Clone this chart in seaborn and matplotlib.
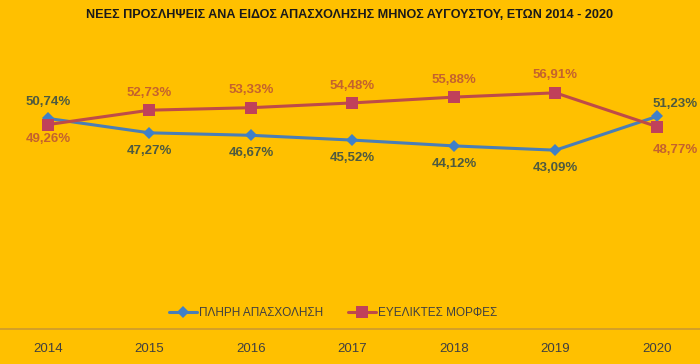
import matplotlib
matplotlib.use("Agg")
import matplotlib.pyplot as plt
import seaborn as sns
import pandas as pd

years = ["2014", "2015", "2016", "2017", "2018", "2019", "2020"]
full_time = [50.74, 47.27, 46.67, 45.52, 44.12, 43.09, 51.23]
flexible = [49.26, 52.73, 53.33, 54.48, 55.88, 56.91, 48.77]
series_names = ["ΠΛΗΡΗ ΑΠΑΣΧΟΛΗΣΗ", "ΕΥΕΛΙΚΤΕΣ ΜΟΡΦΕΣ"]
title = "ΝΕΕΣ ΠΡΟΣΛΗΨΕΙΣ ΑΝΑ ΕΙΔΟΣ ΑΠΑΣΧΟΛΗΣΗΣ ΜΗΝΟΣ ΑΥΓΟΥΣΤΟΥ, ΕΤΩΝ 2014 - 2020"

sns.set_theme(style="white")
plt.rcParams["font.family"] = ["Liberation Sans", "DejaVu Sans"]

bg = "#FFC000"
blue = "#4A7EB6"
red = "#BE4B48"

df = pd.DataFrame({
    "x": list(range(len(years))) * 2,
    "value": full_time + flexible,
    "series": [series_names[0]] * len(years) + [series_names[1]] * len(years),
})

fig = plt.figure(figsize=(7.0, 3.64), dpi=100, facecolor=bg)
ax = fig.add_axes([0, 0.0962, 1, 0.798])
ax.set_facecolor(bg)

sns.lineplot(data=df, x="x", y="value", hue="series", style="series",
             palette={series_names[0]: blue, series_names[1]: red},
             markers={series_names[0]: "D", series_names[1]: "s"},
             dashes=False, linewidth=2.2, markersize=8, markeredgewidth=0,
             ax=ax, legend=True)

for ln in ax.get_lines():
    if ln.get_marker() == "s":
        ln.set_markersize(8.5)
        ln.set_markerfacecolor("#C0415A")
    elif ln.get_marker() == "D":
        ln.set_markersize(6.5)
        ln.set_markerfacecolor("#3F80C8")

ax.set_xlim(-0.473, 6.424)
ax.set_ylim(0, 70)
ax.set_xticks(range(len(years)))
ax.set_xticklabels(years)
ax.tick_params(axis="x", length=0, pad=10, labelsize=9.5, labelcolor="#404040")
ax.set_yticks([])
ax.set_xlabel("")
ax.set_ylabel("")
for s in ["left", "right", "top"]:
    ax.spines[s].set_visible(False)
ax.spines["bottom"].set_color("#CC9A30")
ax.spines["bottom"].set_linewidth(1.2)

blue_lbl = "#4E5A40"
red_lbl = "#C4622E"
fs = 9.5
fmt = lambda v: f"{v:.2f}%".replace(".", ",")
last = len(years) - 1
for i, v in enumerate(full_time):
    if i == 0:
        off = (0, 11.5)
    elif i == last:
        off = (13, 9)
    else:
        off = (0, -13)
    ax.annotate(fmt(v), (i, v), xytext=off, textcoords="offset points",
                ha="center", va="center", fontsize=fs, fontweight="bold", color=blue_lbl)
for i, v in enumerate(flexible):
    if i == 0:
        off = (0, -10.5)
    elif i == last:
        off = (13, -17)
    else:
        off = (0, 12.5)
    ax.annotate(fmt(v), (i, v), xytext=off, textcoords="offset points",
                ha="center", va="center", fontsize=fs, fontweight="bold", color=red_lbl)

leg = ax.legend(loc="center", bbox_to_anchor=(333 / 700, (329 - 313) / 290.5),
                ncol=2, frameon=False, fontsize=8.5, handlelength=2.4,
                columnspacing=2.1, handletextpad=0.15)
for t in leg.get_texts():
    t.set_color("#404040")

fig.text(0.5, 1 - 15 / 364, title, ha="center", va="center", fontsize=9.1,
         fontweight="bold", color="#1A1A1A")

fig.savefig("out.png", dpi=100, facecolor=bg)
